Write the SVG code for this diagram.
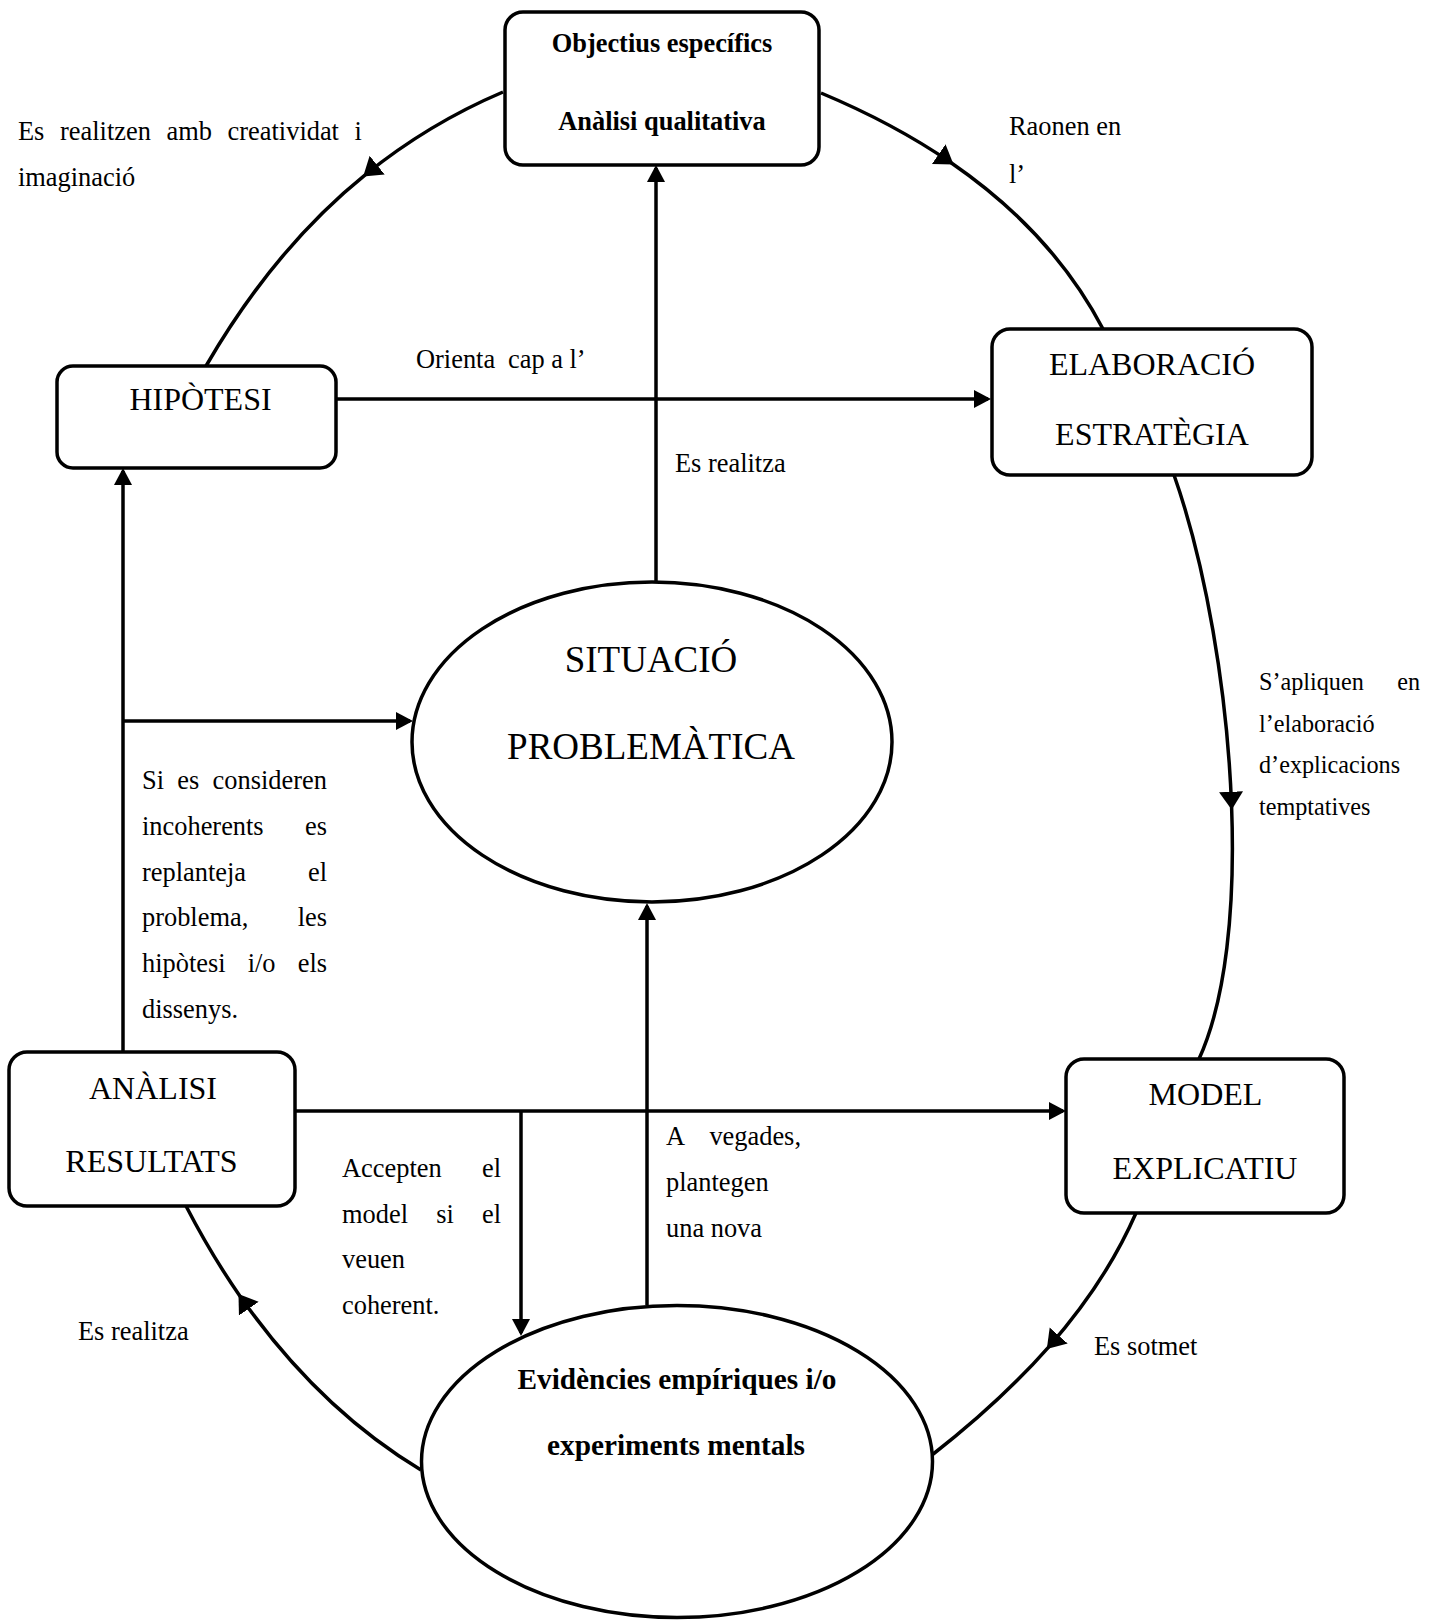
<svg xmlns="http://www.w3.org/2000/svg" width="1435" height="1620" viewBox="0 0 1435 1620">
<style>
.bg{fill:#ffffff}
.box{fill:#ffffff;stroke:#000000;stroke-width:3.5}
.conn{fill:none;stroke:#000000;stroke-width:3.5}
.t{font-family:"Liberation Serif","Times New Roman",serif;fill:#000000}
.s{font-size:26.4px}
.xs{font-size:24.2px}
.big{font-size:32px}
.huge{font-size:37px}
.b{font-weight:bold}
.c{text-anchor:middle}
.e{text-anchor:end}
</style>
<defs>
<marker id="arr" markerUnits="userSpaceOnUse" markerWidth="20" markerHeight="20" refX="14" refY="9" orient="auto">
<path d="M0,0 L17,9 L0,18 z" fill="#000000"/>
</marker>
<marker id="arrc" markerUnits="userSpaceOnUse" markerWidth="22" markerHeight="26" refX="15" refY="12" orient="auto">
<path d="M0,0 L18,12 L0,24 z" fill="#000000"/>
</marker>
</defs>
<rect class="bg" x="0" y="0" width="1435" height="1620"/>

<g id="connectors">
<path class="conn" d="M503,92 Q428.8,123.5 365.5,174.6" marker-end="url(#arrc)"/>
<path class="conn" d="M365.5,174.6 Q274.4,248 206,366"/>
<path class="conn" d="M821,93 Q894.1,123.6 951.1,162.7" marker-end="url(#arrc)"/>
<path class="conn" d="M951.1,162.7 Q1052.4,232.4 1103,329"/>
<path class="conn" d="M1174,475 C1205.3,564.1 1227.3,689.7 1231.6,806.7" marker-end="url(#arrc)"/>
<path class="conn" d="M1231.6,806.7 C1235.3,906.3 1226.1,999.7 1199,1059"/>
<path class="conn" d="M1136,1213 Q1105.8,1282 1048.8,1346.8" marker-end="url(#arrc)"/>
<path class="conn" d="M1048.8,1346.8 Q1000.1,1402.1 932,1455"/>
<path class="conn" d="M421,1470 Q318.1,1408 240.2,1296.4" marker-end="url(#arrc)"/>
<path class="conn" d="M240.2,1296.4 Q211.4,1255.1 186,1206"/>
<path class="conn" d="M336,399 H988" marker-end="url(#arr)"/>
<path class="conn" d="M656,581 V168" marker-end="url(#arr)"/>
<path class="conn" d="M123,1052 V471" marker-end="url(#arr)"/>
<path class="conn" d="M123,721 H410" marker-end="url(#arr)"/>
<path class="conn" d="M295,1111 H1063" marker-end="url(#arr)"/>
<path class="conn" d="M521,1111 V1333" marker-end="url(#arr)"/>
<path class="conn" d="M647,1305 V906" marker-end="url(#arr)"/>
</g>

<g id="node-objectius">
<rect class="box" x="505" y="12" width="314" height="153" rx="18" ry="18"/>
<text class="t s b c" x="662" y="52">Objectius específics</text>
<text class="t s b c" x="662" y="130">Anàlisi qualitativa</text>
</g>

<g id="node-hipotesi">
<rect class="box" x="57" y="366" width="279" height="102" rx="16" ry="16"/>
<text class="t big c" x="200.5" y="410">HIPÒTESI</text>
</g>

<g id="node-elaboracio">
<rect class="box" x="992" y="329" width="320" height="146" rx="18" ry="18"/>
<text class="t big c" x="1152" y="375">ELABORACIÓ</text>
<text class="t big c" x="1152" y="445">ESTRATÈGIA</text>
</g>

<g id="node-situacio">
<ellipse class="box" cx="652" cy="742" rx="240" ry="160"/>
<text class="t huge c" x="651" y="672">SITUACIÓ</text>
<text class="t huge c" x="651" y="759">PROBLEMÀTICA</text>
</g>

<g id="node-analisi">
<rect class="box" x="9" y="1052" width="286" height="154" rx="18" ry="18"/>
<text class="t big c" x="153" y="1099">ANÀLISI</text>
<text class="t big c" x="151.5" y="1172">RESULTATS</text>
</g>

<g id="node-model">
<rect class="box" x="1066" y="1059" width="278" height="154" rx="18" ry="18"/>
<text class="t big c" x="1205.5" y="1105">MODEL</text>
<text class="t big c" x="1205" y="1179">EXPLICATIU</text>
</g>

<g id="node-evidencies">
<ellipse class="box" cx="677" cy="1461.5" rx="255.5" ry="156"/>
<text class="t b c" style="font-size:29.3px" x="677" y="1389">Evidències empíriques i/o</text>
<text class="t b c" style="font-size:29.3px" x="676" y="1455">experiments mentals</text>
</g>

<g id="labels">
<text class="t s" y="140"><tspan x="18">Es</tspan><tspan x="60">realitzen</tspan><tspan x="166.5">amb</tspan><tspan x="227.6">creatividat</tspan><tspan x="354.6">i</tspan></text>
<text class="t s" x="18" y="186">imaginació</text>

<text class="t s" x="1009" y="135">Raonen en</text>
<text class="t s" x="1009" y="183">l’</text>

<text class="t s" y="368"><tspan x="416">Orienta</tspan><tspan x="508">cap a l’</tspan></text>

<text class="t s" x="675" y="472">Es realitza</text>

<text class="t xs" y="690"><tspan x="1259">S’apliquen</tspan><tspan x="1420" text-anchor="end">en</tspan></text>
<text class="t xs" x="1259" y="732">l’elaboració</text>
<text class="t xs" x="1259" y="773">d’explicacions</text>
<text class="t xs" x="1259" y="815">temptatives</text>

<text class="t s" y="789"><tspan x="142">Si</tspan><tspan x="177.3">es</tspan><tspan x="212.6">consideren</tspan></text>
<text class="t s" y="835"><tspan x="142">incoherents</tspan><tspan x="327" text-anchor="end">es</tspan></text>
<text class="t s" y="881"><tspan x="142">replanteja</tspan><tspan x="327" text-anchor="end">el</tspan></text>
<text class="t s" y="926"><tspan x="142">problema,</tspan><tspan x="327" text-anchor="end">les</tspan></text>
<text class="t s" y="972"><tspan x="142">hipòtesi</tspan><tspan x="247.7">i/o</tspan><tspan x="327" text-anchor="end">els</tspan></text>
<text class="t s" x="142" y="1018">dissenys.</text>

<text class="t s" y="1145"><tspan x="666">A</tspan><tspan x="801" text-anchor="end">vegades,</tspan></text>
<text class="t s" x="666" y="1191">plantegen</text>
<text class="t s" x="666" y="1237">una nova</text>

<text class="t s" y="1177"><tspan x="342">Accepten</tspan><tspan x="501" text-anchor="end">el</tspan></text>
<text class="t s" y="1223"><tspan x="342">model</tspan><tspan x="436.2">si</tspan><tspan x="501" text-anchor="end">el</tspan></text>
<text class="t s" x="342" y="1268">veuen</text>
<text class="t s" x="342" y="1314">coherent.</text>

<text class="t s" x="78" y="1340">Es realitza</text>
<text class="t s" x="1094" y="1355">Es sotmet</text>
</g>
</svg>
